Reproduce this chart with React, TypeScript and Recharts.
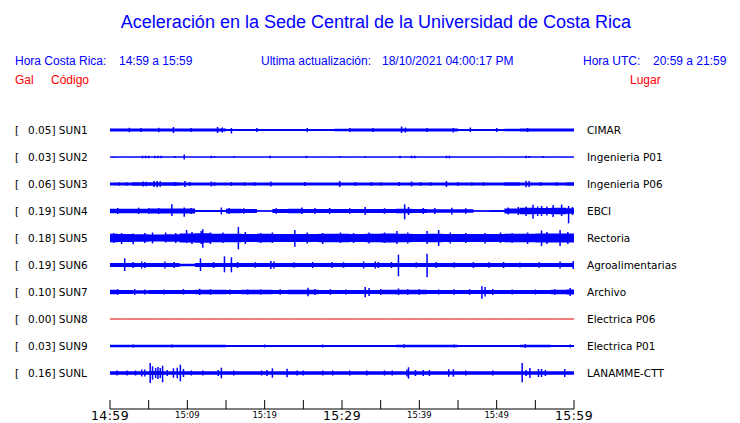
import { ComposedChart, Area, Line, Scatter, ErrorBar, XAxis, YAxis } from 'recharts';

// minutes after 14:59 (sampling of the noise band)
const minutes = [0, 2, 4, 6, 8, 10, 12, 14, 16, 18, 20, 22, 24, 26, 28, 30, 32, 34, 36, 38, 40, 42, 44, 46, 48, 50, 52, 54, 56, 58, 60];

const codes = ['SUN1', 'SUN2', 'SUN3', 'SUN4', 'SUN5', 'SUN6', 'SUN7', 'SUN8', 'SUN9', 'SUNL'];
const gals = ['0.05', '0.03', '0.06', '0.19', '0.18', '0.19', '0.10', '0.00', '0.03', '0.16'];
const places = ['CIMAR', 'Ingenieria P01', 'Ingenieria P06', 'EBCI', 'Rectoria', 'Agroalimentarias', 'Archivo', 'Electrica P06', 'Electrica P01', 'LANAMME-CTT'];

const xTicks = [0, 5, 10, 15, 20, 25, 30, 35, 40, 45, 50, 55, 60];
const xTickLabels = ['14:59', '', '15:09', '', '15:19', '', '15:29', '', '15:39', '', '15:49', '', '15:59'];
const bigLabels = ['14:59', '15:29', '15:59'];

// half width of the background noise band, one value per entry of minutes
const sun1 = [1.5, 1.4, 1.4, 1.5, 1.6, 1.5, 1.5, 1.6, 1.1, 1.1, 1.1, 1.0, 1.1, 1.0, 1.0, 1.3, 1.5, 1.5, 1.5, 1.6, 1.5, 1.5, 1.4, 1.1, 1.0, 1.1, 1.3, 1.5, 1.5, 1.5, 1.5];
const sun2 = [0.5, 0.5, 0.5, 0.5, 0.5, 0.5, 0.5, 0.5, 0.5, 0.5, 0.5, 0.5, 0.5, 0.5, 0.5, 0.5, 0.5, 0.5, 0.5, 0.5, 0.5, 0.5, 0.5, 0.5, 0.5, 0.5, 0.5, 0.5, 0.5, 0.5, 0.5];
const sun3 = [1.6, 1.6, 1.7, 1.8, 1.7, 1.6, 1.6, 1.6, 1.6, 1.6, 1.6, 1.6, 1.6, 1.6, 1.6, 1.6, 1.6, 1.6, 1.6, 1.6, 1.6, 1.6, 1.6, 1.6, 1.6, 1.6, 1.7, 1.6, 1.6, 1.6, 1.7];
const sun4 = [2.2, 2.3, 2.3, 2.4, 2.5, 2.4, 1.0, 1.0, 2.3, 2.1, 0.8, 2.1, 2.2, 2.1, 2.1, 2.0, 2.0, 2.0, 2.0, 2.2, 1.9, 1.8, 1.8, 1.7, 0.8, 0.9, 2.4, 3.2, 3.0, 3.2, 2.8];
const sun5 = [4.2, 4.0, 3.8, 3.6, 3.8, 4.5, 4.8, 4.3, 4.2, 4.0, 4.2, 4.0, 4.0, 4.0, 4.3, 4.2, 4.0, 4.2, 4.4, 4.3, 4.0, 4.2, 4.0, 4.0, 4.0, 4.1, 4.2, 4.3, 4.4, 4.5, 4.4];
const sun6 = [2.0, 2.0, 2.0, 2.0, 2.0, 1.2, 2.0, 2.0, 2.0, 2.0, 2.0, 2.0, 2.0, 2.0, 2.0, 2.0, 2.0, 2.0, 2.0, 2.0, 2.0, 2.0, 2.0, 2.0, 2.0, 2.0, 2.0, 2.0, 2.0, 2.0, 2.0];
const sun7 = [2.2, 2.0, 1.8, 2.0, 2.1, 2.0, 2.2, 2.2, 2.1, 2.2, 2.2, 2.1, 2.2, 2.2, 2.1, 2.0, 2.0, 2.1, 2.2, 2.2, 2.2, 2.1, 2.0, 2.0, 2.1, 2.1, 2.0, 2.0, 2.1, 2.2, 2.4];
const sun8 = [0, 0, 0, 0, 0, 0, 0, 0, 0, 0, 0, 0, 0, 0, 0, 0, 0, 0, 0, 0, 0, 0, 0, 0, 0, 0, 0, 0, 0, 0, 0];
const sun9 = [1.3, 1.3, 1.3, 1.3, 1.3, 1.3, 1.3, 1.3, 1.0, 1.0, 1.0, 1.1, 1.0, 1.0, 1.0, 1.0, 1.0, 1.0, 1.0, 1.2, 1.3, 1.2, 1.2, 1.0, 1.0, 1.0, 1.0, 1.2, 1.2, 1.1, 1.1];
const sunl = [1.8, 1.7, 1.8, 1.9, 1.8, 1.7, 1.7, 1.7, 1.7, 1.7, 1.7, 1.7, 1.7, 1.7, 1.7, 1.7, 1.7, 1.7, 1.7, 1.7, 1.7, 1.7, 1.7, 1.7, 1.7, 1.7, 1.7, 1.8, 1.8, 1.8, 1.8];

// peaks: [minute, amplitude up, amplitude down]
const peaks1 = [[2.5, 2.2, 2.2], [4.0, 2, 2], [6.3, 2.2, 2.2], [8.2, 3, 3], [10.5, 2, 2], [13.9, 3, 3], [14.5, 2.5, 2.5], [15.7, 2, 3.5], [19, 2, 2], [25.5, 2, 2], [31, 2, 2], [34, 2, 2], [37.7, 3.5, 3], [38.2, 2.5, 2.5], [41, 2, 2], [44.4, 2, 2.5], [46.6, 2.5, 2], [50, 2, 2], [54, 2, 2]];
const peaks2 = [[0.5, 0, 1], [4.2, 1.3, 1.3], [4.6, 1.3, 1.3], [5.0, 1.3, 1.3], [5.8, 1.3, 1.3], [6.2, 1.3, 1.3], [6.6, 1.3, 1.3], [8.4, 1, 1], [9.6, 2.5, 2.5], [13.1, 1.3, 1.3], [13.5, 1, 1], [16, 1, 1], [20.7, 1.2, 1.2], [25.4, 1.2, 1.2], [29.7, 1, 1], [33, 0.8, 0.8], [37.5, 1.3, 1.3], [39, 1.3, 1.3], [39.4, 1.3, 1.3], [43.5, 1.3, 1.3], [43.9, 1.3, 1.3], [53.8, 1.3, 1.3], [54.2, 1, 1], [56, 1, 1]];
const peaks3 = [[1.2, 1.7, 1.7], [2.2, 1.8, 1.8], [3, 1.8, 1.8], [4.3, 2.5, 2.5], [4.7, 2.3, 2.3], [5.7, 3, 3], [6.1, 3, 3.3], [6.5, 2.8, 2.8], [8.4, 2, 2], [9.7, 3, 3], [10.3, 2, 2], [13.1, 2.5, 2.5], [13.5, 2, 2], [15.7, 2, 2], [17.4, 1.8, 1.8], [18.7, 2, 2], [20.8, 2.5, 2.5], [25.2, 2, 2], [29.7, 3, 3], [31.7, 2, 2], [33.8, 2, 2], [35, 1.8, 1.8], [37.4, 2, 2], [39, 2.5, 2.5], [40.2, 2, 2], [41.5, 1.8, 1.8], [43.5, 3, 3], [45, 2, 2], [46.8, 1.8, 1.8], [48.3, 1.8, 1.8], [53.8, 3.3, 3.3], [54.2, 3, 3], [55.7, 2, 2], [57.8, 2, 2]];
const peaks4 = [[1, 3, 3], [3.7, 3.3, 3], [5, 2.8, 2.8], [6.3, 3, 3], [8, 6.7, 5], [9.6, 3.5, 5.7], [10.5, 3, 3], [14.4, 3.5, 3.5], [15.4, 3, 3], [17.3, 2.8, 2.8], [21.5, 2.8, 2.8], [24.8, 3.5, 3], [26.5, 3, 3], [28.4, 3, 3], [31, 2.8, 2.8], [33, 4, 4], [35.5, 2.8, 2.8], [38.1, 6.7, 8.3], [38.6, 4, 4], [40.5, 3, 3], [42, 3, 3], [44.2, 3.2, 3.5], [46, 2.8, 2.8], [51.5, 3.5, 3.5], [52.8, 4, 4], [53.8, 4.5, 5], [54.7, 6.3, 7.7], [55.3, 4.5, 5], [55.8, 5, 5], [56.5, 4.5, 4.5], [57.3, 6, 6], [58.4, 6.3, 5], [59.3, 5, 12.3], [59.8, 4, 4]];
const peaks5 = [[0.5, 5, 5], [1.5, 5, 6], [3, 4.5, 6.3], [4.5, 5, 5], [5.5, 5.5, 5.5], [7.2, 5.5, 4.5], [8.5, 5, 5], [9.9, 8, 5], [10.6, 6, 6], [11.8, 7, 6], [12, 8.7, 9.7], [13, 5.5, 6], [14.6, 5.5, 5], [16.6, 11, 11.3], [17.5, 6, 6], [19.5, 5, 5], [21, 5.5, 5], [23.9, 8, 8.7], [25.5, 5.5, 5.5], [27.5, 5, 6], [29.8, 5.5, 5], [31.5, 5, 5], [33.5, 5.5, 5.5], [35.5, 5.5, 5], [37.1, 7, 6], [38.5, 5.5, 5.5], [41, 7, 6], [42.5, 8, 8], [44, 5.5, 5.5], [46, 5, 5], [48.5, 5, 5.5], [50.5, 5.5, 5], [52, 5, 5], [54, 5.5, 6], [55.8, 7.5, 8], [56.5, 6, 6], [58.2, 8, 8], [59.2, 6, 6]];
const peaks6 = [[1.9, 6.7, 6], [3, 3, 3], [4.1, 3.5, 3.5], [4.5, 3, 3], [7.1, 3.5, 3.5], [8.3, 3, 3], [11.7, 6.7, 6], [13.4, 3, 3], [14.8, 8.7, 7.3], [15.7, 7.7, 7.3], [16.5, 3, 3], [18.8, 2.8, 2.8], [20.8, 4, 4], [21.2, 3.5, 3.5], [23.8, 2.8, 2.8], [26.2, 3, 3], [28.7, 3, 3], [30.2, 2.8, 2.8], [32.8, 3.5, 3.5], [34.3, 3.5, 3.5], [34.7, 3, 3], [36.4, 3, 3], [37.3, 10.3, 11.3], [39.6, 2.8, 2.8], [41, 11.3, 12.3], [42.2, 3, 3], [44.5, 2.8, 2.8], [47, 3, 3], [49, 2.8, 2.8], [50.9, 3, 3], [53, 2.5, 2.5], [55.5, 2.8, 2.8], [58.2, 3.5, 3.5], [59.9, 4, 4]];
const peaks7 = [[1, 2.8, 2.8], [3.2, 3, 3], [4.5, 2.5, 2.5], [7, 2.5, 2.5], [9.5, 3, 2.5], [11.6, 3.3, 3], [13, 2.8, 2.8], [15.5, 2.5, 2.5], [17.8, 2.5, 2.5], [19.5, 2.5, 2.5], [22, 2.8, 2.8], [25.6, 4.3, 4.3], [26.5, 3, 3], [28.5, 2.8, 2.8], [30.5, 2.5, 2.5], [33, 5, 5.3], [33.5, 4, 4], [35, 3, 3], [37.3, 3.5, 3], [38.5, 2.8, 2.8], [40, 2.8, 2.8], [42.5, 2.5, 2.5], [44.5, 2.8, 2.8], [46.5, 2.8, 2.8], [48.1, 5.7, 6.7], [48.5, 5, 4.5], [49.5, 3, 3], [52, 2.5, 2.5], [55, 2.5, 2.5], [57.5, 2.8, 2.8], [59.5, 4, 4]];
const peaks8: number[][] = [];
const peaks9 = [[3, 1.5, 1.5], [8, 1.5, 1.5], [20, 1.5, 1.5], [27.5, 1.5, 1.5], [38, 1.8, 1.8], [44.5, 1.5, 1.5], [53.7, 2, 2], [59.5, 1.5, 1.5]];
const peaksL = [[0.9, 2.5, 2.5], [2.2, 2.5, 2.5], [3.3, 2.5, 2.5], [4.1, 3.5, 3.5], [4.5, 3.5, 3.5], [5.2, 10, 10], [5.5, 6.7, 6.7], [5.9, 5, 5], [6.2, 6, 6], [6.5, 5, 5], [6.8, 7.3, 9.3], [7.4, 3, 3], [8.2, 4.7, 4.7], [8.7, 5.3, 5.3], [9.1, 8.3, 8.3], [9.5, 4, 4], [10.5, 2.5, 2.5], [12, 2.5, 2.5], [14, 3, 3], [14.4, 5.3, 5.3], [16, 2.5, 2.5], [19.6, 2.5, 2.5], [20.3, 3, 3], [21, 4.7, 4.7], [22.9, 4.3, 4.3], [24.2, 2.5, 2.5], [25, 2.5, 2.5], [27.5, 2.5, 2.5], [28.8, 2.5, 2.5], [31, 2.5, 2.5], [33.2, 2.5, 2.5], [35.5, 2.5, 2.5], [36.5, 2.5, 2.5], [38.4, 3.5, 3.5], [38.6, 5.7, 5.7], [39.5, 3, 3], [40.5, 3, 3], [41.3, 3, 3], [43.8, 3.7, 3.7], [44.4, 3.7, 3.7], [46, 2.5, 2.5], [49.5, 2.5, 2.5], [53.3, 10, 9.3], [53.8, 3, 3], [54.3, 5, 5], [55.4, 4, 4], [55.8, 4, 4], [56.3, 3, 3], [58.8, 4, 4]];

const bands = [sun1, sun2, sun3, sun4, sun5, sun6, sun7, sun8, sun9, sunl];
const peaks = [peaks1, peaks2, peaks3, peaks4, peaks5, peaks6, peaks7, peaks8, peaks9, peaksL];

const ROW = 27;
const BLUE = '#0000ff';
const RED = '#ff0000';
const LABEL_FONT = '"DejaVu Sans", sans-serif';
const HEAD_FONT = '"Liberation Sans", Arial, sans-serif';

const table = minutes.map((t, j) => {
  const row: Record<string, any> = { t };
  bands.forEach((b, i) => {
    row['r' + i] = [i * ROW - b[j], i * ROW + b[j]];
    row['c' + i] = i * ROW + b[j];
  });
  return row;
});

const peakData = peaks.map((list, i) =>
  list.map(([t, up, down]) => ({ t, y: i * ROW, err: [up, down] }))
);

const rowTicks = codes.map((_, i) => i * ROW);

const LeftTick = (props: any) => {
  const i = Math.round(props.payload.value / ROW);
  return (
    <g>
      <text x={15} y={props.y} dy="0.36em" fontSize={10.5} fontFamily={LABEL_FONT} fill="#000">[</text>
      <text x={28} y={props.y} dy="0.36em" fontSize={10.5} fontFamily={LABEL_FONT} fill="#000">
        {gals[i]}] {codes[i]}
      </text>
    </g>
  );
};

const RightTick = (props: any) => {
  const i = Math.round(props.payload.value / ROW);
  return (
    <text x={587} y={props.y} dy="0.36em" fontSize={10.5} fontFamily={LABEL_FONT} fill="#000">
      {places[i]}
    </text>
  );
};

const TimeTick = (props: any) => {
  const { x, y, index } = props;
  const label = xTickLabels[index];
  const big = bigLabels.includes(label);
  return (
    <g>
      <line x1={x} x2={x} y1={y} y2={y - 9} stroke="#000" strokeWidth={1} />
      {label && (
        <text
          x={x}
          y={big ? y + 11 : y + 9}
          textAnchor="middle"
          fontSize={big ? 12.5 : 8.5}
          fontFamily={LABEL_FONT}
          letterSpacing={big ? 0.4 : 0}
          fill="#000"
        >
          {label}
        </text>
      )}
    </g>
  );
};

export default function App() {
  return (
    <div style={{ position: 'absolute', left: 0, top: 0, width: 740, height: 423, background: '#fff' }}>
      <ComposedChart width={740} height={423} data={table} margin={{ top: 116, right: 0, bottom: 0, left: 0 }}>
        <XAxis
          dataKey="t"
          type="number"
          domain={[0, 60]}
          ticks={xTicks}
          interval={0}
          tickSize={0}
          tickMargin={0}
          height={14}
          axisLine={{ stroke: '#000', strokeWidth: 1 }}
          tickLine={false}
          tick={<TimeTick />}
        />
        <YAxis
          yAxisId="l"
          type="number"
          domain={[-14, 279]}
          allowDataOverflow
          reversed
          ticks={rowTicks}
          interval={0}
          width={110}
          tickSize={0}
          axisLine={false}
          tickLine={false}
          tick={<LeftTick />}
        />
        <YAxis
          yAxisId="r"
          orientation="right"
          type="number"
          domain={[-14, 279]}
          allowDataOverflow
          reversed
          ticks={rowTicks}
          interval={0}
          width={166}
          tickSize={0}
          axisLine={false}
          tickLine={false}
          tick={<RightTick />}
        />
        {bands.map((_, i) =>
          i === 7 ? (
            <Line
              key={'line' + i}
              yAxisId="r"
              dataKey={'c' + i}
              stroke="#e00000"
              strokeWidth={1}
              dot={false}
              type="linear"
              isAnimationActive={false}
            />
          ) : (
            <Area
              key={'band' + i}
              yAxisId="l"
              dataKey={'r' + i}
              type="step"
              stroke="none"
              fill={BLUE}
              fillOpacity={1}
              dot={false}
              activeDot={false}
              isAnimationActive={false}
            />
          )
        )}
        {bands.map((_, i) =>
          i === 7 ? null : (
            <Area
              key={'mid' + i}
              yAxisId="l"
              dataKey={() => i * ROW}
              type="linear"
              stroke={BLUE}
              strokeWidth={1}
              fill="none"
              dot={false}
              activeDot={false}
              isAnimationActive={false}
            />
          )
        )}
        {peakData.map((d, i) => (
          <Scatter
            key={'peaks' + i}
            yAxisId="l"
            data={d}
            dataKey="y"
            shape={() => <g />}
            isAnimationActive={false}
          >
            <ErrorBar dataKey="err" direction="y" width={0} stroke={BLUE} strokeWidth={1.5} isAnimationActive={false} />
          </Scatter>
        ))}
      </ComposedChart>
      <svg width={740} height={423} style={{ position: 'absolute', left: 0, top: 0, pointerEvents: 'none' }}>
        <text x={376} y={28} textAnchor="middle" fontSize={18} fontFamily={HEAD_FONT} fill={BLUE}>
          Aceleración en la Sede Central de la Universidad de Costa Rica
        </text>
        <g fontSize={12} fontFamily={HEAD_FONT} fill={BLUE}>
          <text x={15} y={65}>Hora Costa Rica:</text>
          <text x={119} y={65}>14:59 a 15:59</text>
          <text x={261} y={65}>Ultima actualización:</text>
          <text x={382} y={65}>18/10/2021 04:00:17 PM</text>
          <text x={583} y={65}>Hora UTC:</text>
          <text x={653} y={65}>20:59 a 21:59</text>
        </g>
        <g fontSize={12} fontFamily={HEAD_FONT} fill={RED}>
          <text x={15} y={84}>Gal</text>
          <text x={51} y={84}>Código</text>
          <text x={630} y={84}>Lugar</text>
        </g>
      </svg>
    </div>
  );
}
